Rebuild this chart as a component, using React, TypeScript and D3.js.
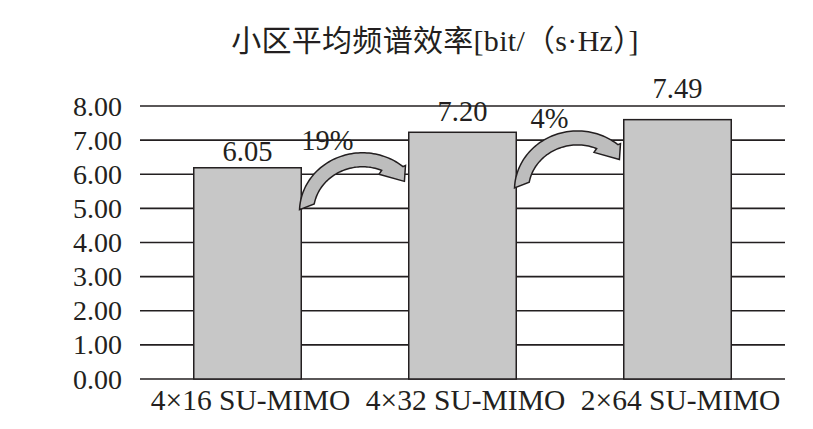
import React from "react";
import * as d3 from "d3";

// ---- data ----
const categories = ["4×16 SU-MIMO", "4×32 SU-MIMO", "2×64 SU-MIMO"];
const barHeights = [6.19, 7.23, 7.6];
const valueLabels = ["6.05", "7.20", "7.49"];
const gainLabels = ["19%", "4%"];
const yTicks = [0, 1, 2, 3, 4, 5, 6, 7, 8];
const title = "小区平均频谱效率[bit/（s·Hz）]";

// ---- layout ----
const W = 813;
const H = 429;
const plot = { left: 140, right: 785, top: 106, bottom: 379 };
const valueLabelLift = [6.5, 11.5, 21.5];
const arrowAnchor = [4.9, 5.54];

const serif = "'Liberation Serif', 'Times New Roman', serif";
const titleFont = "'Liberation Serif', 'Noto Sans CJK SC', serif";
const ink = "#231f20";

const rad = (deg: number) => (deg * Math.PI) / 180;

function arrowPath(cx: number, cy: number) {
  const outer = { rx: 63, ry: 59 };
  const inner = { rx: 49, ry: 45 };
  const mid = { rx: 56, ry: 52 };
  const pt = (e: { rx: number; ry: number }, t: number, f = 1): [number, number] => [
    cx + e.rx * f * Math.cos(rad(t)),
    cy - e.ry * f * Math.sin(rad(t)),
  ];
  const pts: [number, number][] = [];
  for (let t = 178; t >= 50; t -= 2) pts.push(pt(outer, t));
  pts.push(pt(outer, 49, 1.04));
  pts.push(pt(mid, 38, 0.95));
  pts.push(pt(inner, 68, 0.9));
  for (let t = 67; t <= 170; t += 2) pts.push(pt(inner, t));
  pts.push(pt(inner, 170));
  return d3.line()(pts) + "Z";
}

export default function App() {
  const x = d3
    .scaleBand<string>()
    .domain(categories)
    .range([plot.left, plot.right])
    .paddingInner(0.5)
    .paddingOuter(0.25);
  const y = d3.scaleLinear().domain([0, 8]).range([plot.bottom, plot.top]);
  const step = x.step();

  return (
    <svg
      width={W}
      height={H}
      style={{ position: "absolute", left: 0, top: 0, background: "#fff" }}
    >
      <rect x={0} y={0} width={W} height={H} fill="#fff" />
      <text
        x={435}
        y={51}
        textAnchor="middle"
        fontFamily={titleFont}
        fontSize={30}
        letterSpacing={0.3}
        fill={ink}
      >
        {title}
      </text>

      {/* gridlines */}
      {yTicks.map((t) => (
        <line
          key={"g" + t}
          x1={plot.left}
          x2={plot.right}
          y1={y(t)}
          y2={y(t)}
          stroke={ink}
          strokeWidth={1.6}
        />
      ))}

      {/* y tick labels */}
      {yTicks.map((t) => (
        <text
          key={"t" + t}
          x={122}
          y={y(t) + 9.5}
          textAnchor="end"
          fontFamily={serif}
          fontSize={28}
          fill={ink}
        >
          {t.toFixed(2)}
        </text>
      ))}

      {/* bars */}
      {categories.map((c, i) => (
        <rect
          key={"b" + c}
          x={x(c)}
          y={y(barHeights[i])}
          width={x.bandwidth()}
          height={y(0) - y(barHeights[i])}
          fill="#c7c7c7"
          stroke={ink}
          strokeWidth={1.5}
        />
      ))}

      {/* value labels */}
      {categories.map((c, i) => (
        <text
          key={"v" + c}
          x={(x(c) as number) + x.bandwidth() / 2}
          y={y(barHeights[i]) - valueLabelLift[i]}
          textAnchor="middle"
          fontFamily={serif}
          fontSize={28.5}
          fill={ink}
        >
          {valueLabels[i]}
        </text>
      ))}

      {/* gain arrows */}
      {gainLabels.map((g, i) => {
        const gapMid = (x(categories[i + 1]) as number) - (step - x.bandwidth()) / 2;
        const cx = gapMid + 7.5;
        const cy = y(arrowAnchor[i]);
        return (
          <g key={"a" + i}>
            <text
              x={cx - 9}
              y={cy - 62}
              textAnchor="end"
              fontFamily={serif}
              fontSize={28.5}
              fill={ink}
            >
              {g}
            </text>
            <path
              d={arrowPath(cx, cy)}
              fill="#bdbdbd"
              stroke={ink}
              strokeWidth={1.5}
              strokeLinejoin="miter"
            />
          </g>
        );
      })}

      {/* x labels */}
      {categories.map((c) => (
        <text
          key={"x" + c}
          x={(x(c) as number) + x.bandwidth() / 2 + 3}
          y={410}
          textAnchor="middle"
          fontFamily={serif}
          fontSize={29.5}
          fill={ink}
        >
          {c}
        </text>
      ))}
    </svg>
  );
}
